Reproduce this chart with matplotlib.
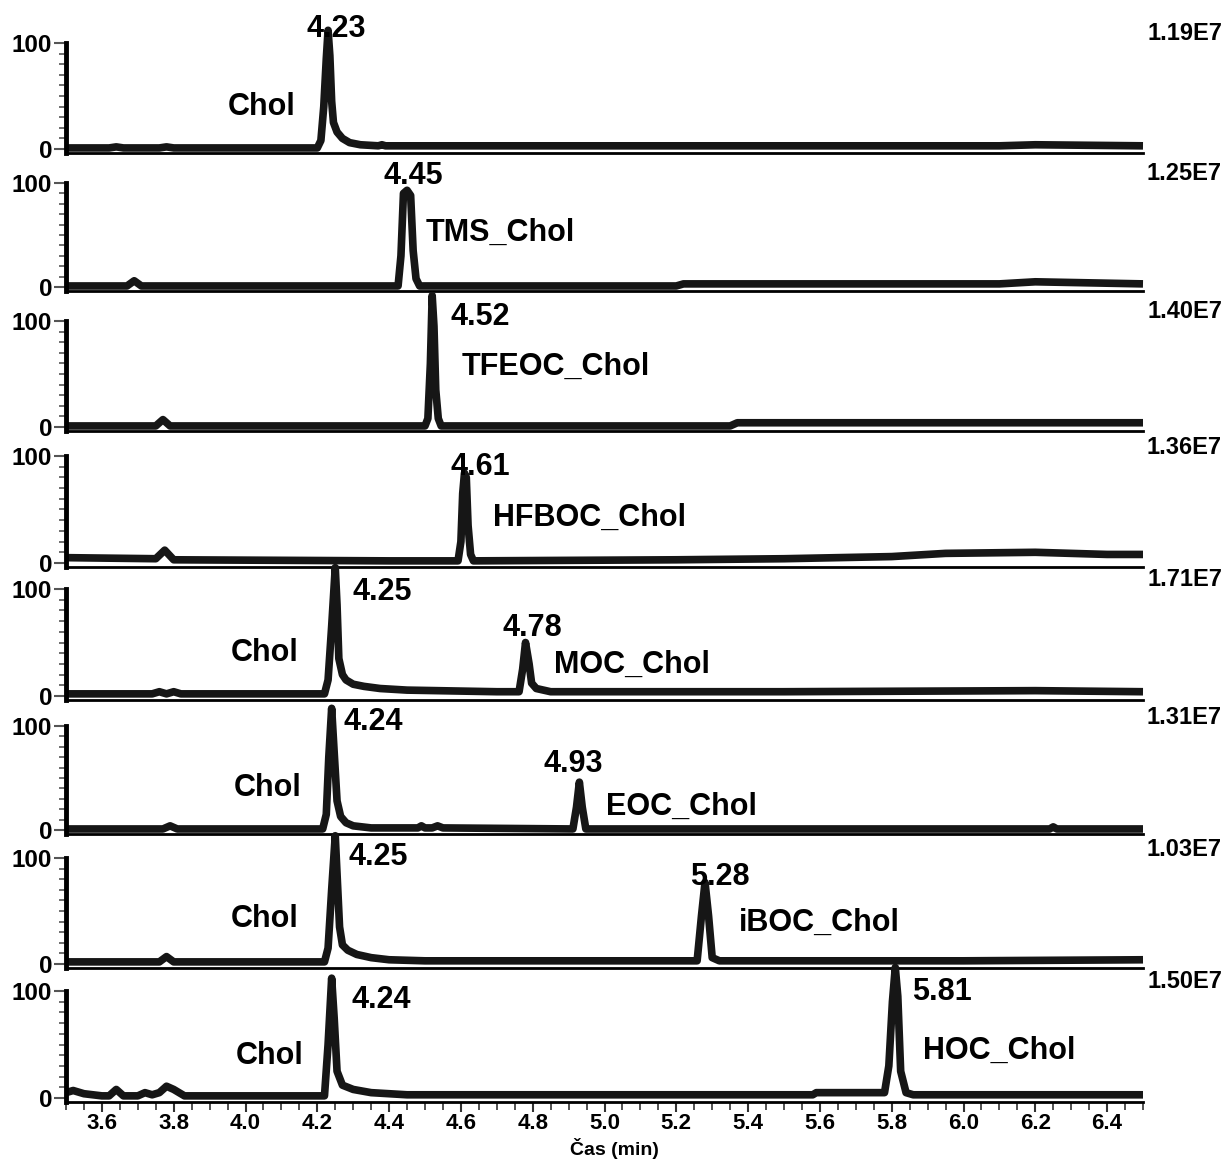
import matplotlib.pyplot as plt
from matplotlib.ticker import FixedLocator, MultipleLocator

plt.rcParams['font.family'] = ['Liberation Sans', 'DejaVu Sans']
plt.rcParams['font.weight'] = 'bold'

# chromatogram traces, retention time (min) vs relative abundance (%)
t1 = [3.50, 3.62, 3.64, 3.66, 3.76, 3.78, 3.80, 4.20, 4.21, 4.218, 4.225, 4.23, 4.235, 4.24, 4.245,
      4.255, 4.27, 4.29, 4.32, 4.37, 4.38, 4.39, 4.45, 5.50, 6.10, 6.20, 6.50]
y1 = [1, 1, 2, 1, 1, 2, 1, 1, 8, 40, 85, 112, 88, 45, 25, 16, 10, 6, 4, 3, 4, 3, 3, 3, 3, 4, 3]

t2 = [3.50, 3.67, 3.69, 3.71, 4.425, 4.433, 4.44, 4.45, 4.46, 4.467, 4.475, 4.485, 5.20, 5.22,
      6.10, 6.20, 6.50]
y2 = [1, 1, 6, 1, 1, 30, 90, 93, 88, 35, 8, 1, 1, 3, 3, 5, 3]

t3 = [3.50, 3.75, 3.77, 3.79, 4.50, 4.508, 4.515, 4.52, 4.525, 4.53, 4.537, 4.545, 5.35, 5.37,
      6.20, 6.50]
y3 = [1, 1, 7, 1, 1, 8, 60, 124, 95, 35, 8, 1, 1, 4, 4, 4]

t4 = [3.50, 3.75, 3.775, 3.80, 4.40, 4.592, 4.60, 4.605, 4.61, 4.615, 4.62, 4.627, 4.635, 5.20,
      5.50, 5.80, 5.95, 6.20, 6.40, 6.50]
y4 = [5, 4, 12, 3, 2, 2, 20, 65, 84, 80, 35, 8, 2, 3, 4, 6, 9, 10, 8, 8]

t5 = [3.50, 3.74, 3.76, 3.78, 3.80, 3.82, 4.22, 4.23, 4.24, 4.25, 4.255, 4.26, 4.27, 4.28, 4.30,
      4.33, 4.375, 4.45, 4.70, 4.762, 4.772, 4.78, 4.785, 4.79, 4.797, 4.81, 4.85, 5.50, 6.20, 6.50]
y5 = [2, 2, 4, 2, 4, 2, 2, 15, 65, 120, 85, 35, 20, 15, 11, 9, 7, 5.5, 4, 4, 25, 50, 40, 30, 12, 7,
      4, 4, 5, 4]

t6 = [3.50, 3.77, 3.79, 3.81, 4.215, 4.225, 4.232, 4.24, 4.247, 4.255, 4.265, 4.28, 4.30, 4.35, 4.48,
      4.49, 4.50, 4.52, 4.535, 4.55, 4.912, 4.922, 4.93, 4.938, 4.948, 6.24, 6.25, 6.26, 6.50]
y6 = [1, 1, 4, 1, 1, 15, 70, 117, 75, 28, 13, 7, 4, 2, 2, 4, 2, 2, 4, 2, 1, 22, 46, 22, 1, 1, 3, 1, 1]

t7 = [3.50, 3.76, 3.78, 3.80, 4.22, 4.23, 4.24, 4.25, 4.255, 4.262, 4.27, 4.285, 4.31, 4.35, 4.40,
      4.50, 5.258, 5.27, 5.28, 5.29, 5.30, 5.32, 6.00, 6.50]
y7 = [2, 2, 7, 2, 2, 15, 70, 121, 85, 35, 18, 13, 9, 6, 4, 3, 3, 45, 77, 45, 6, 3, 3, 4]

t8 = [3.50, 3.52, 3.55, 3.60, 3.62, 3.64, 3.66, 3.70, 3.72, 3.74, 3.76, 3.78, 3.80, 3.83, 4.22,
      4.23, 4.24, 4.247, 4.255, 4.27, 4.30, 4.35, 4.45, 5.58, 5.59, 5.78, 5.792, 5.802, 5.81, 5.817,
      5.825, 5.84, 5.86, 6.50]
y8 = [5, 7, 4, 2, 2, 8, 2, 2, 5, 3, 5, 11, 8, 2, 2, 50, 112, 75, 25, 12, 8, 5, 3, 3, 5, 5, 30, 90,
      122, 95, 25, 5, 3, 3]

traces = [(t1, y1), (t2, y2), (t3, y3), (t4, y4), (t5, y5), (t6, y6), (t7, y7), (t8, y8)]

scale_labels = ['1.19E7', '1.25E7', '1.40E7', '1.36E7', '1.71E7', '1.31E7', '1.03E7', '1.50E7']
rt_labels = [['4.23'], ['4.45'], ['4.52'], ['4.61'], ['4.25', '4.78'], ['4.24', '4.93'],
             ['4.25', '5.28'], ['4.24', '5.81']]
compound_labels = [['Chol'], ['TMS_Chol'], ['TFEOC_Chol'], ['HFBOC_Chol'], ['Chol', 'MOC_Chol'],
                   ['Chol', 'EOC_Chol'], ['Chol', 'iBOC_Chol'], ['Chol', 'HOC_Chol']]
x_ticks = [3.6, 3.8, 4.0, 4.2, 4.4, 4.6, 4.8, 5.0, 5.2, 5.4, 5.6, 5.8, 6.0, 6.2, 6.4]
x_tick_labels = ['3.6', '3.8', '4.0', '4.2', '4.4', '4.6', '4.8', '5.0', '5.2', '5.4', '5.6', '5.8',
                 '6.0', '6.2', '6.4']

# label placement (data coords of each panel)
rt_pos = [[(4.252, 113, 'center')], [(4.467, 107, 'center')], [(4.570, 104, 'left')],
          [(4.653, 90, 'center')], [(4.297, 97, 'left'), (4.798, 64, 'center')],
          [(4.274, 104, 'left'), (4.912, 63, 'center')], [(4.286, 101, 'left'), (5.322, 82, 'center')],
          [(4.294, 92, 'left'), (5.857, 99, 'left')]]
cmp_pos = [[(4.046, 40, 'center')], [(4.503, 52, 'left')], [(4.603, 57, 'left')], [(4.689, 42, 'left')],
           [(4.052, 40, 'center'), (4.859, 29, 'left')], [(4.063, 40, 'center'), (5.004, 22, 'left')],
           [(4.052, 42, 'center'), (5.375, 39, 'left')], [(4.068, 39, 'center'), (5.887, 44, 'left')]]

# panel geometry in pixels: rows of the 100 % and 0 % levels
W, H = 1227, 1160
x_left, x_right = 66, 1143
top_px = [43, 183, 321, 456, 589, 726, 858, 991]
zero_px = [149, 287, 427, 563, 696, 830, 964, 1098]
y_min = -4

fig = plt.figure(figsize=(W / 100, H / 100), dpi=100)
line_col = '#161616'

for i, (t, y) in enumerate(traces):
    ppu = (zero_px[i] - top_px[i]) / 100
    bot = zero_px[i] - y_min * ppu
    ax = fig.add_axes([x_left / W, 1 - bot / H, (x_right - x_left) / W, (bot - top_px[i]) / H])
    ax.plot(t, y, color=line_col, lw=5.5, clip_on=False, solid_capstyle='butt', solid_joinstyle='round')
    ax.set_xlim(3.5, 6.5)
    ax.set_ylim(y_min, 100)

    for s in ['top', 'right']:
        ax.spines[s].set_visible(False)
    ax.spines['left'].set_linewidth(3.5)
    ax.spines['bottom'].set_linewidth(2)
    ax.spines['left'].set_color('black')
    ax.spines['bottom'].set_color('black')

    ax.yaxis.set_major_locator(FixedLocator([0, 100]))
    ax.yaxis.set_minor_locator(MultipleLocator(10))
    ax.set_yticklabels(['0', '100'])
    ax.tick_params(axis='y', which='major', length=9, width=1.5, color='#555555', labelsize=17.5, pad=1)
    ax.tick_params(axis='y', which='minor', length=5, width=1.2, color='#555555')

    if i < len(traces) - 1:
        ax.tick_params(axis='x', which='both', bottom=False, labelbottom=False)
    else:
        ax.xaxis.set_major_locator(FixedLocator(x_ticks))
        ax.xaxis.set_minor_locator(MultipleLocator(0.05))
        ax.set_xticklabels(x_tick_labels)
        ax.tick_params(axis='x', which='major', length=7, width=1.5, color='#333333', labelsize=16, pad=1)
        ax.tick_params(axis='x', which='minor', length=6, width=1.2, color='#333333')

    for lab, (x, yy, ha) in zip(rt_labels[i], rt_pos[i]):
        ax.text(x, yy, lab, ha=ha, va='center', fontsize=22, fontweight='bold', clip_on=False)
    for lab, (x, yy, ha) in zip(compound_labels[i], cmp_pos[i]):
        ax.text(x, yy, lab, ha=ha, va='center', fontsize=22, fontweight='bold', clip_on=False)

    fig.text(1222 / W, 1 - (top_px[i] - 9) / H, scale_labels[i], ha='right', va='center',
             fontsize=17, fontweight='bold')

# axis title sits just under the tick labels
fig.text(614 / W, 1 / H, 'Čas (min)', ha='center', va='bottom', fontsize=14, fontweight='bold')

fig.savefig('out.png', dpi=100)
